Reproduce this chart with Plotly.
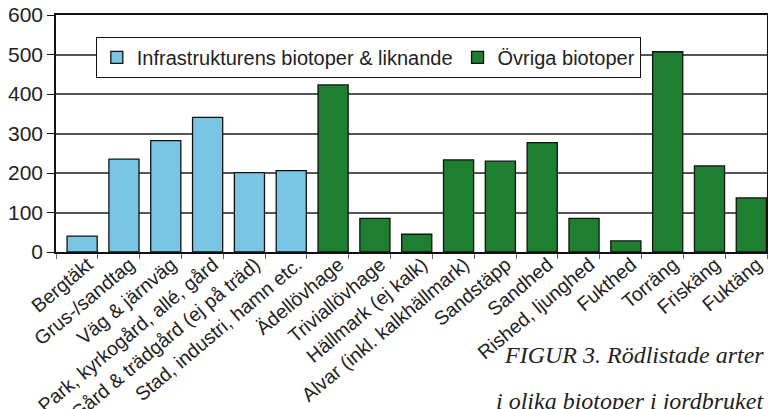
import plotly.graph_objects as go

infra_cats = ["Bergtäkt", "Grus-/sandtag", "Väg & järnväg", "Park, kyrkogård, allé, gård",
              "Gård & trädgård (ej på träd)", "Stad, industri, hamn etc."]
infra_vals = [40, 235, 282, 341, 201, 206]

other_cats = ["Ädellövhage", "Triviallövhage", "Hällmark (ej kalk)", "Alvar (inkl. kalkhällmark)",
              "Sandstäpp", "Sandhed", "Rished, ljunghed", "Fukthed", "Torräng", "Friskäng", "Fuktäng"]
other_vals = [423, 85, 45, 233, 230, 277, 85, 28, 507, 218, 137]

series_names = ["Infrastrukturens biotoper & liknande", "Övriga biotoper"]
y_ticks = [0, 100, 200, 300, 400, 500, 600]

fig = go.Figure()
fig.add_trace(go.Bar(x=infra_cats, y=infra_vals, name=series_names[0],
                     marker=dict(color="#79C6E4", line=dict(color="#111111", width=1.3)),
                     width=0.72, offset=-0.235))
fig.add_trace(go.Bar(x=other_cats, y=other_vals, name=series_names[1],
                     marker=dict(color="#1F7F31", line=dict(color="#111111", width=1.3)),
                     width=0.72, offset=-0.235))

fig.update_layout(
    width=768, height=409,
    margin=dict(l=56, r=1, t=15, b=157, autoexpand=False),
    paper_bgcolor="white", plot_bgcolor="white",
    barmode="overlay",
    font=dict(family="Liberation Sans, Arial, sans-serif", color="#222222"),
    legend=dict(orientation="h", x=0.056, y=0.908, xanchor="left", yanchor="top",
                bgcolor="white", bordercolor="#111111", borderwidth=1,
                font=dict(size=20, color="#222222"),
                itemwidth=30, traceorder="normal"),
    xaxis=dict(type="category", categoryorder="array", categoryarray=infra_cats + other_cats,
               tickangle=-40, tickfont=dict(size=19.5, color="#222222"),
               ticklabelshift=11, ticklabelstandoff=-8,
               ticks="outside", ticklen=5, tickcolor="#666666", tickson="boundaries",
               showline=True, linecolor="#111111", linewidth=1.5, mirror=True,
               showgrid=False, automargin=False),
    yaxis=dict(range=[0, 600], tickvals=y_ticks, tickfont=dict(size=21, color="#222222"),
               ticks="outside", ticklen=7, tickcolor="#111111",
               showline=True, linecolor="#111111", linewidth=1.5, mirror=True,
               showgrid=True, gridcolor="#555555", gridwidth=1.5, zeroline=False,
               automargin=False),
)

fig.add_annotation(text="<i>FIGUR 3. Rödlistade arter</i>", xref="paper", yref="paper",
                   x=0.9985, y=-0.435, xanchor="right", yanchor="middle", showarrow=False,
                   font=dict(family="Liberation Serif, Times New Roman, serif", size=24, color="#222222"))
fig.add_annotation(text="<i>i olika biotoper i jordbruket</i>", xref="paper", yref="paper",
                   x=0.9985, y=-0.63, xanchor="right", yanchor="middle", showarrow=False,
                   font=dict(family="Liberation Serif, Times New Roman, serif", size=24, color="#222222"))

fig.write_html("out.html", config={"displayModeBar": False},
               post_script="document.body.style.margin='0';")
